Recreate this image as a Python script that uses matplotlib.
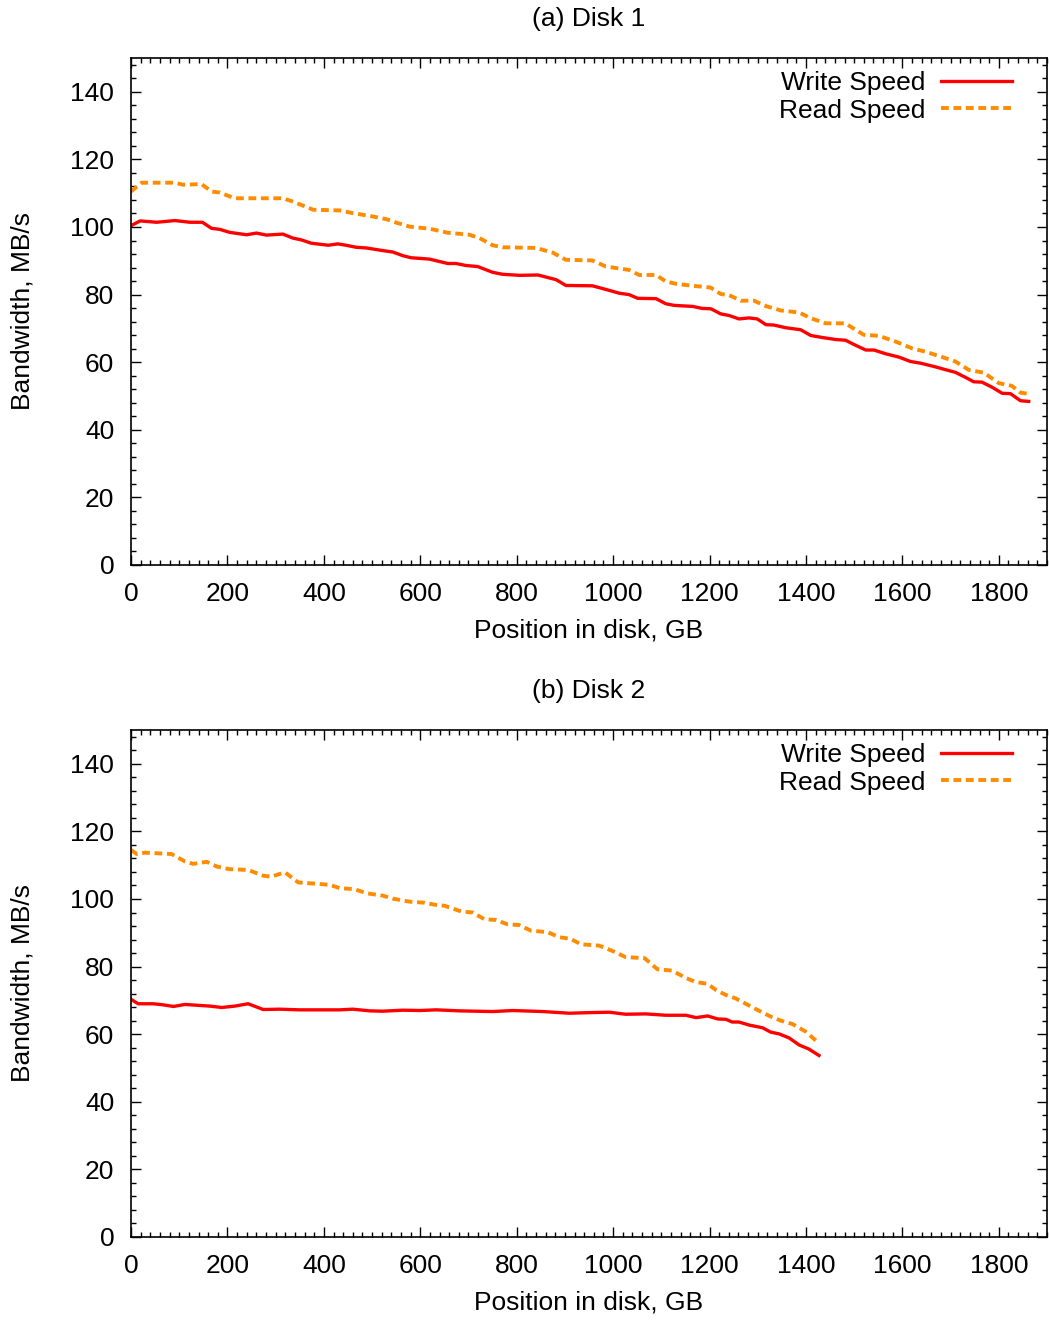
import numpy as np
import matplotlib.pyplot as plt
from matplotlib.ticker import MultipleLocator

plt.rcParams['font.family'] = ['Liberation Sans', 'DejaVu Sans']

# Disk 1 (position in GB, bandwidth in MB/s)
d1_write_pos = [0, 19, 53, 91, 122, 148, 167, 184, 205, 240, 260, 281, 315, 336, 353, 374,
                409, 429, 446, 467, 488, 523, 543, 564, 581, 619, 657, 674, 695, 719, 750,
                771, 806, 844, 882, 902, 957, 978, 1013, 1033, 1051, 1089, 1109, 1127, 1165,
                1185, 1203, 1223, 1241, 1261, 1282, 1299, 1317, 1333, 1358, 1389, 1410, 1434,
                1462, 1482, 1503, 1524, 1541, 1565, 1593, 1617, 1638, 1669, 1689, 1710, 1731,
                1748, 1765, 1786, 1807, 1824, 1845, 1862]
d1_write = [100.4, 101.8, 101.4, 101.9, 101.4, 101.4, 99.6, 99.3, 98.4, 97.7, 98.2, 97.6,
            97.9, 96.7, 96.2, 95.2, 94.6, 95.0, 94.6, 94.0, 93.8, 93.0, 92.6, 91.5, 90.9,
            90.5, 89.2, 89.2, 88.6, 88.3, 86.6, 86.0, 85.7, 85.8, 84.4, 82.7, 82.6, 81.8,
            80.4, 80.0, 78.9, 78.8, 77.3, 76.8, 76.5, 75.9, 75.8, 74.3, 73.8, 72.8, 73.1,
            72.8, 71.1, 71.0, 70.2, 69.6, 67.9, 67.3, 66.7, 66.5, 65.0, 63.6, 63.6, 62.5,
            61.5, 60.2, 59.7, 58.6, 57.8, 57.0, 55.5, 54.2, 54.1, 52.6, 50.8, 50.7, 48.6, 48.4]
d1_read_pos = [0, 22, 46, 91, 108, 146, 167, 184, 215, 253, 315, 336, 378, 433, 460, 502,
               530, 550, 578, 619, 657, 702, 723, 750, 771, 840, 875, 902, 957, 985, 1033,
               1054, 1089, 1109, 1130, 1165, 1202, 1223, 1241, 1265, 1292, 1317, 1348, 1386,
               1410, 1441, 1482, 1496, 1520, 1551, 1586, 1620, 1648, 1683, 1710, 1738, 1769,
               1800, 1827, 1845, 1862]
d1_read = [110.5, 113.1, 113.1, 113.1, 112.5, 112.7, 110.5, 110.2, 108.5, 108.5, 108.5,
           107.5, 105.1, 104.9, 104.1, 103.1, 102.3, 101.3, 100.1, 99.5, 98.3, 97.7, 96.7,
           94.6, 94.0, 93.8, 92.4, 90.3, 90.1, 88.3, 87.3, 85.8, 85.8, 83.9, 83.2, 82.6,
           82.1, 80.2, 79.8, 78.2, 78.2, 76.6, 75.3, 74.7, 73.0, 71.5, 71.5, 70.2, 68.1,
           67.8, 66.1, 64.1, 63.1, 61.5, 60.2, 57.7, 56.9, 53.8, 53.0, 51.0, 50.6]

# Disk 2
d2_write_pos = [0, 15, 46, 66, 88, 112, 143, 164, 188, 215, 243, 274, 308, 350, 433, 460,
                495, 522, 564, 599, 633, 681, 750, 792, 854, 909, 957, 992, 1026, 1068, 1109,
                1151, 1172, 1196, 1217, 1234, 1247, 1261, 1282, 1310, 1327, 1344, 1365, 1386,
                1406, 1427]
d2_write = [70.3, 69.0, 69.0, 68.7, 68.2, 68.8, 68.5, 68.3, 67.9, 68.3, 69.0, 67.3, 67.4,
            67.2, 67.2, 67.4, 66.9, 66.8, 67.1, 67.0, 67.2, 66.9, 66.7, 67.0, 66.7, 66.2,
            66.4, 66.5, 65.9, 66.0, 65.6, 65.6, 64.9, 65.4, 64.5, 64.4, 63.6, 63.6, 62.7,
            61.9, 60.6, 60.1, 58.9, 56.8, 55.6, 53.7]
d2_read_pos = [0, 12, 29, 84, 112, 129, 157, 178, 205, 243, 274, 291, 319, 347, 412, 433,
               464, 488, 522, 543, 578, 609, 630, 650, 685, 709, 733, 757, 781, 805, 830,
               864, 888, 912, 933, 971, 999, 1026, 1065, 1092, 1123, 1151, 1172, 1196, 1213,
               1234, 1254, 1275, 1299, 1327, 1348, 1372, 1399, 1427]
d2_read = [114.5, 113.3, 113.7, 113.3, 111.1, 110.4, 111.0, 109.6, 108.8, 108.6, 106.9,
           106.6, 107.9, 104.9, 104.2, 103.2, 102.9, 101.7, 101.0, 100.1, 99.2, 98.9, 98.3,
           98.0, 96.3, 96.0, 94.0, 93.8, 92.5, 92.3, 90.6, 90.2, 88.7, 88.2, 86.6, 86.2,
           84.6, 82.8, 82.5, 79.2, 78.8, 76.6, 75.4, 74.9, 73.1, 71.6, 70.6, 69.0, 67.2,
           65.2, 64.0, 63.0, 60.8, 57.3]

titles = ["(a) Disk 1", "(b) Disk 2"]
panels = [(d1_write_pos, d1_write, d1_read_pos, d1_read),
          (d2_write_pos, d2_write, d2_read_pos, d2_read)]

fs = 19

fig = plt.figure(figsize=(10.49, 13.21), dpi=100)
axes = [fig.add_axes([0.1249, 0.5723, 0.8732, 0.3838]),
        fig.add_axes([0.1249, 0.0636, 0.8732, 0.3838])]

for ax, title, (wx, wy, rx, ry) in zip(axes, titles, panels):
    ax.plot(wx, wy, color="#ff0000", lw=2.4, label="Write Speed")
    ax.plot(rx, ry, color="#ff8c00", lw=2.8, dashes=(2.0, 1.2), label="Read Speed")

    ax.set_xlim(0, 1900)
    ax.set_ylim(0, 150)
    ax.xaxis.set_major_locator(MultipleLocator(200))
    ax.xaxis.set_minor_locator(MultipleLocator(20))
    ax.yaxis.set_major_locator(MultipleLocator(20))
    ax.yaxis.set_minor_locator(MultipleLocator(4))
    ax.tick_params(which="both", direction="in", top=True, right=True, width=1.0,
                   labelsize=fs, pad=12)
    ax.tick_params(which="major", length=7)
    ax.tick_params(which="minor", length=3.5)
    for s in ax.spines.values():
        s.set_linewidth(1.2)

    ax.set_title(title, fontsize=fs, pad=23)
    ax.set_xlabel("Position in disk, GB", fontsize=fs, labelpad=9)
    ax.set_ylabel("Bandwidth, MB/s", fontsize=fs, labelpad=26)

    ax.legend(loc="upper right", bbox_to_anchor=(0.9738, 0.995), frameon=False,
              markerfirst=False, fontsize=fs, handlelength=2.7, handletextpad=0.6,
              labelspacing=0.13, borderpad=0.4, borderaxespad=0)

fig.savefig("out.png", dpi=100)
